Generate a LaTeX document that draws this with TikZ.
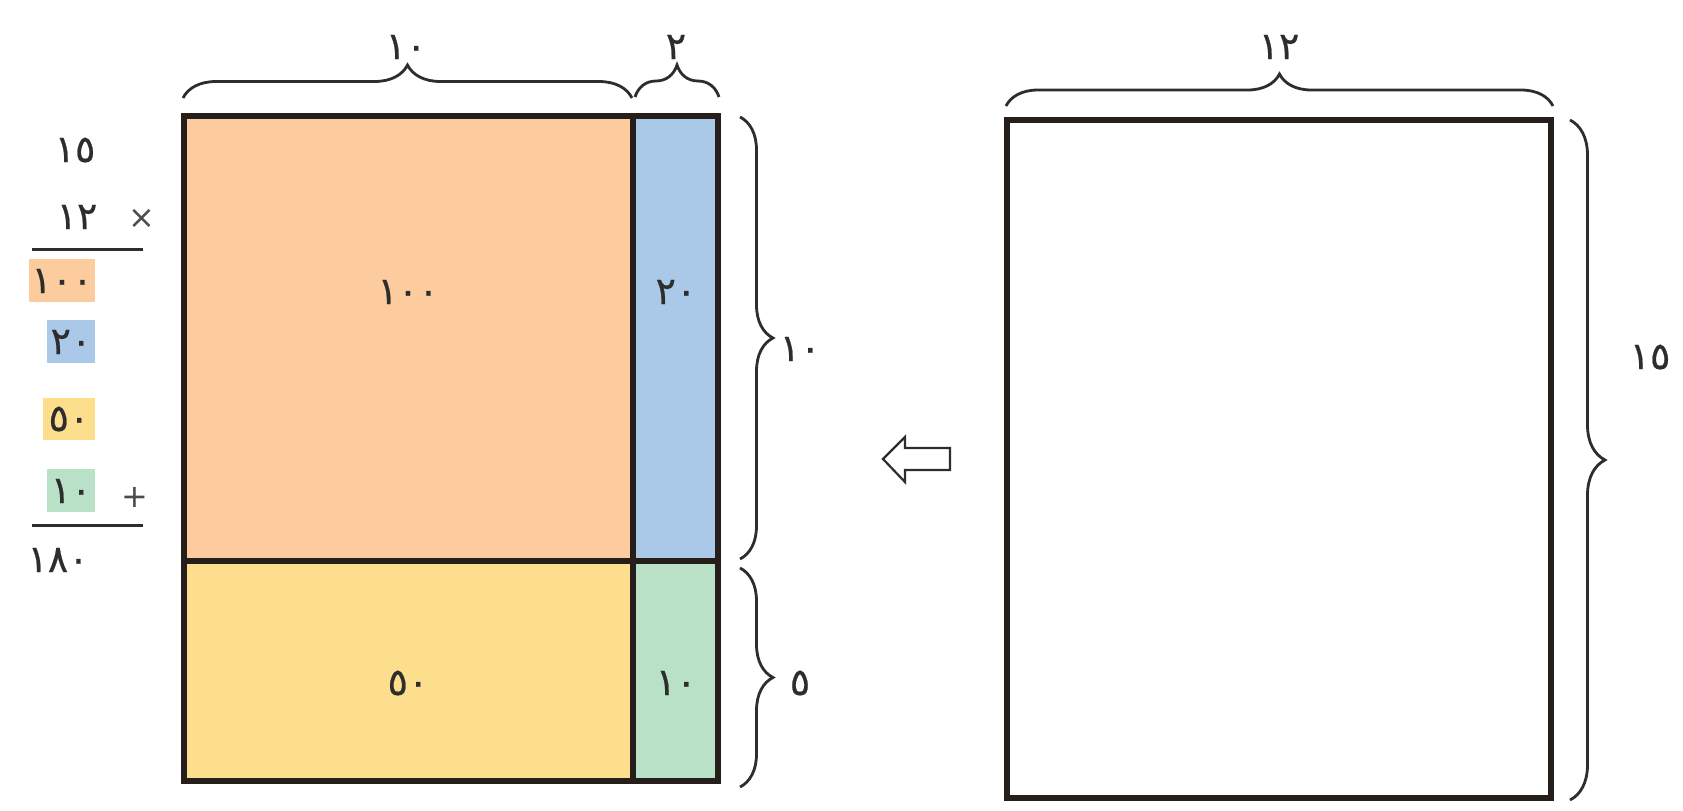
\documentclass[tikz,border=0pt]{standalone}
\usepackage{fontspec}
\newfontfamily\arabicfont[FakeBold=0.6]{DejaVu Sans}
\newfontfamily\symfont{DejaVu Sans}
\usetikzlibrary{decorations.pathreplacing}
\definecolor{cOrange}{RGB}{253,204,158}
\definecolor{cBlue}{RGB}{170,200,232}
\definecolor{cYellow}{RGB}{253,222,140}
\definecolor{cGreen}{RGB}{185,225,200}
\definecolor{frame}{RGB}{38,30,27}
\definecolor{txt}{RGB}{45,45,45}
\begin{document}
\begin{tikzpicture}[x=0.5pt,y=-0.5pt,
  num/.style={font=\arabicfont\fontsize{19}{19}\selectfont, text=txt, inner sep=0pt},
  sym/.style={font=\symfont\fontsize{16}{16}\selectfont, text=txt!85, inner sep=0pt},
  brc/.style={decorate, decoration={brace, amplitude=#1}, line width=1.4pt, draw=txt},
  sumline/.style={line width=1.5pt, draw=txt},
  frm/.style={line width=3.3pt, draw=frame, line join=miter}]
\useasboundingbox (0,0) rectangle (1683,810);

% left block cells
\fill[cOrange] (184,116) rectangle (633,561);
\fill[cBlue] (633,116) rectangle (718,561);
\fill[cYellow] (184,561) rectangle (633,781);
\fill[cGreen] (633,561) rectangle (718,781);
\draw[frm] (184,116) rectangle (718,781);
\draw[frm] (633,116) -- (633,781);
\draw[frm] (184,561) -- (718,561);

\node[num] (c100) at (408,292) {١٠٠};
\node[num] (c20) at (676,292) {٢٠};
\node[num] (c50) at (408,683) {٥٠};
\node[num] (c10) at (676,683) {١٠};

% braces for left block
\draw[brc=16.5pt] (183,98) -- (632,98);
\draw[brc=16pt] (635,97) -- (719,97);
\draw[brc=16.5pt] (740,117) -- (740,559);
\draw[brc=16.5pt] (740,568) -- (740,787);
\node[num] (t10) at (406,47) {١٠};
\node[num] (t2) at (676,47) {٢};
\node[num] (r10) at (800,349) {١٠};
\node[num] (r5) at (800,683) {٥};

% right rectangle
\draw[line width=3pt, draw=frame] (1007,120) rectangle (1551,798);
\draw[brc=16pt] (1006,106) -- (1553,106);
\draw[brc=17.5pt] (1570,120) -- (1570,800);
\node[num] (t12) at (1279,47) {١٢};
\node[num] (r15) at (1650,357) {١٥};

% arrow
\draw[line width=1.1pt, draw=txt, line join=miter]
  (883,459) -- (905,437) -- (905,448) -- (950,448) -- (950,470) -- (905,470) -- (905,482) -- cycle;

% calculation
\node[num] (a15) at (75,150) {١٥};
\node[num] (a12) at (77,217) {١٢};
\node[sym] (mul) at (142,219) {×};
\draw[sumline] (32,249) -- (143,249);
\fill[cOrange] (29,259) rectangle (95,302);
\fill[cBlue] (47,320) rectangle (95,363);
\fill[cYellow] (43,398) rectangle (95,440);
\fill[cGreen] (47,469) rectangle (95,512);
\node[num] (p100) at (62,281) {١٠٠};
\node[num] (p20) at (71,342) {٢٠};
\node[num] (p50) at (69,419) {٥٠};
\node[num] (p10) at (71,491) {١٠};
\node[sym] (plus) at (135,497) {+};
\draw[sumline] (32,525) -- (143,525);
\node[num] (sum) at (58,560) {١٨٠};
\end{tikzpicture}
\end{document}
